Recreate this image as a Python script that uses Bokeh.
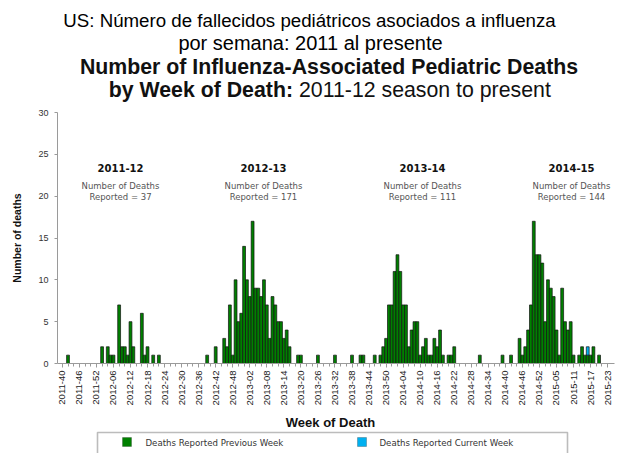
import math
from bokeh.plotting import figure
from bokeh.layouts import column
from bokeh.models import Label, BoxAnnotation, FixedTicker, Range1d, ColumnDataSource
from bokeh.embed import file_html
from bokeh.resources import INLINE

# ---------------- data ----------------
tick_labels = ["2011-40", "2011-46", "2011-52", "2012-06", "2012-12", "2012-18", "2012-24",
               "2012-30", "2012-36", "2012-42", "2012-48", "2013-02", "2013-08", "2013-14",
               "2013-20", "2013-26", "2013-32", "2013-38", "2013-44", "2013-50", "2014-04",
               "2014-10", "2014-16", "2014-22", "2014-28", "2014-34", "2014-40", "2014-46",
               "2014-52", "2015-05", "2015-11", "2015-17", "2015-23"]

prev_weeks = ["2011-42", "2012-02", "2012-04", "2012-05", "2012-06", "2012-08", "2012-09",
              "2012-10", "2012-11", "2012-12", "2012-13", "2012-16", "2012-17", "2012-18",
              "2012-20", "2012-22",
              "2012-39", "2012-42", "2012-45", "2012-46", "2012-47", "2012-48", "2012-49",
              "2012-50", "2012-51", "2012-52", "2013-01", "2013-02", "2013-03", "2013-04",
              "2013-05", "2013-06", "2013-07", "2013-08", "2013-09", "2013-10", "2013-11",
              "2013-12", "2013-13", "2013-14", "2013-15", "2013-16", "2013-19", "2013-20",
              "2013-26", "2013-32", "2013-38",
              "2013-41", "2013-42", "2013-46", "2013-48", "2013-49", "2013-50", "2013-51",
              "2013-52", "2014-01", "2014-02", "2014-03", "2014-04", "2014-05", "2014-06",
              "2014-07", "2014-08", "2014-09", "2014-10", "2014-11", "2014-12", "2014-13",
              "2014-14", "2014-15", "2014-16", "2014-17", "2014-18", "2014-20", "2014-21",
              "2014-22", "2014-31", "2014-39",
              "2014-42", "2014-45", "2014-46", "2014-47", "2014-48", "2014-49", "2014-50",
              "2014-51", "2014-52", "2014-53", "2015-01", "2015-02", "2015-03", "2015-04",
              "2015-05", "2015-06", "2015-07", "2015-08", "2015-09", "2015-10", "2015-11",
              "2015-13", "2015-14", "2015-15", "2015-16", "2015-17", "2015-18", "2015-20"]
prev_deaths = [1, 2, 2, 1, 1, 7, 2,
               2, 1, 5, 2, 6, 1, 2,
               1, 1,
               1, 2, 3, 2, 7, 1, 10,
               5, 6, 14, 10, 8, 17, 9,
               9, 8, 10, 7, 3, 8, 7,
               5, 5, 3, 4, 2, 1, 1,
               1, 1, 1,
               1, 1, 1, 1, 2, 3, 7,
               7, 11, 13, 11, 7, 7, 2,
               4, 5, 5, 1, 2, 3, 1,
               1, 3, 2, 4, 1, 1, 1,
               2, 1, 1,
               1, 3, 1, 2, 4, 7, 17,
               13, 13, 12, 5, 10, 9, 8,
               4, 1, 9, 5, 4, 5, 1,
               1, 2, 1, 1, 1, 2, 1]

curr_weeks = ["2015-16"]
curr_deaths = [1]

seasons = ["2011-12", "2012-13", "2013-14", "2014-15"]
season_reported = [37, 171, 111, 144]

YEAR_WEEKS = {2011: 52, 2012: 52, 2013: 52, 2014: 53}


def week_index(s):
    y, w = map(int, s.split("-"))
    idx = w - 40
    for yr in range(2011, y):
        idx += YEAR_WEEKS[yr]
    return idx


# ---------------- layout ----------------
W = 617
TOP_H = 104          # title strip (page y 0..104)
MAIN_H = 308         # chart (page y 104..412)
BOT_H = 453 - TOP_H - MAIN_H   # axis title + legend strip
ML, MR, MT, MB = 57, 3, 8, 49
PXW = 2.84
X0 = -1.7
X1 = X0 + (W - ML - MR) / PXW
FRAME_BOT = TOP_H + MAIN_H - MB      # page y of y=0
PXH = (MAIN_H - MT - MB) / 30.0


def dx(page_x):
    return X0 + (page_x - ML) / PXW


def dy(page_y):
    return (FRAME_BOT - page_y) / PXH


def blank_fig(h):
    # frames in a column are aligned with the chart frame (page x ML .. W-MR)
    f = figure(width=W, height=h, output_backend="svg", toolbar_location=None,
               x_axis_type=None, y_axis_type=None, min_border=0,
               x_range=Range1d(ML, W - MR), y_range=Range1d(h, 0))
    f.outline_line_color = None
    f.xgrid.grid_line_color = None
    f.ygrid.grid_line_color = None
    return f


def lab(fig, x, y, text, size, bold=False, font="Liberation Sans", color="#111111", align="center"):
    fig.add_layout(Label(x=x, y=y, text=text, text_align=align, text_baseline="middle",
                         text_font=font, text_font_size=size,
                         text_font_style="bold" if bold else "normal", text_color=color))


# ---- title strip ----
top = blank_fig(TOP_H)
lab(top, 309, 20, "US: Número de fallecidos pediátricos asociados a influenza", "18.7px", color="#000000")
lab(top, 310, 42, "por semana: 2011 al presente", "20px", color="#000000")
lab(top, 328.5, 66, "Number of Influenza-Associated Pediatric Deaths", "21.3px", bold=True)
lab(top, 292.5, 89, "by Week of Death:", "21.3px", bold=True, align="right")
lab(top, 298.5, 89, "2011-12 season to present", "21.3px", align="left")

# ---- main chart ----
p = figure(width=W, height=MAIN_H, output_backend="svg", toolbar_location=None,
           x_range=Range1d(X0, X1), y_range=Range1d(0, 30),
           min_border_left=ML, min_border_right=MR, min_border_top=MT, min_border_bottom=MB)
p.outline_line_color = None
p.xgrid.grid_line_color = None
p.ygrid.grid_line_color = None

prev_x = [week_index(w) for w in prev_weeks]
src = ColumnDataSource(dict(x=prev_x, top=prev_deaths))
p.vbar(x="x", top="top", width=1.0, source=src, fill_color="#008000",
       line_color="#111111", line_width=0.7)

lookup = dict(zip(prev_weeks, prev_deaths))
cx = [week_index(w) for w in curr_weeks]
cb = [lookup.get(w, 0) for w in curr_weeks]
ct = [b + v for b, v in zip(cb, curr_deaths)]
src2 = ColumnDataSource(dict(x=cx, bottom=cb, top=ct))
p.vbar(x="x", bottom="bottom", top="top", width=1.0, source=src2, fill_color="#00B0F0",
       line_color="#111111", line_width=0.7)

xa = p.xaxis[0]
major = [i * 6 for i in range(len(tick_labels))]
xa.ticker = FixedTicker(ticks=major, minor_ticks=list(range(0, 194, 2)))
xa.major_label_overrides = {m: t for m, t in zip(major, tick_labels)}
xa.major_label_orientation = math.pi / 2
xa.major_label_text_font = "Liberation Sans"
xa.major_label_text_font_size = "9.5px"
xa.major_label_text_color = "#222222"
xa.major_label_standoff = 3
xa.axis_line_color = "#9a9a9a"
xa.major_tick_line_color = "#9a9a9a"
xa.minor_tick_line_color = "#9a9a9a"
xa.major_tick_out = 4
xa.major_tick_in = 0
xa.minor_tick_out = 3
xa.minor_tick_in = 0

ya = p.yaxis[0]
ya.ticker = FixedTicker(ticks=[0, 5, 10, 15, 20, 25, 30], minor_ticks=[])
ya.major_label_text_font = "Liberation Sans"
ya.major_label_text_font_size = "9px"
ya.major_label_text_color = "#333333"
ya.major_label_standoff = 6
ya.axis_line_color = "#9a9a9a"
ya.major_tick_line_color = "#9a9a9a"
ya.major_tick_out = 3
ya.major_tick_in = 0
ya.axis_label = "Number of deaths"
ya.axis_label_text_font = "Liberation Sans"
ya.axis_label_text_font_style = "bold"
ya.axis_label_text_font_size = "10.5px"
ya.axis_label_text_color = "#111111"
ya.axis_label_standoff = 12

season_x = [120, 263, 422, 571]
for sx, name, rep in zip(season_x, seasons, season_reported):
    lab(p, dx(sx), dy(167), name, "10px", bold=True, font="DejaVu Sans", color="#111111")
    lab(p, dx(sx), dy(185), "Number of Deaths", "8.5px", font="DejaVu Sans", color="#555555")
    lab(p, dx(sx), dy(196), f"Reported = {rep}", "8.5px", font="DejaVu Sans", color="#555555")

# ---- axis title + legend strip ----
bot = blank_fig(BOT_H)
BY = TOP_H + MAIN_H   # page y of strip top
lab(bot, 330, 422 - BY, "Week of Death", "13px", bold=True, color="#111111")
bot.add_layout(BoxAnnotation(left=97, right=567, top=432 - BY, bottom=BOT_H + 20,
                             fill_alpha=0, line_color="#222222", line_width=1.6))
bot.add_layout(BoxAnnotation(left=122, right=131, top=437 - BY, bottom=446 - BY,
                             fill_color="#008000", fill_alpha=1, line_color="#111111", line_width=0.8))
bot.add_layout(BoxAnnotation(left=357, right=366, top=437 - BY, bottom=446 - BY,
                             fill_color="#00B0F0", fill_alpha=1, line_color="#111111", line_width=0.8))
lab(bot, 145, 442 - BY, "Deaths Reported Previous Week", "8.6px", font="DejaVu Sans", color="#333333", align="left")
lab(bot, 379, 442 - BY, "Deaths Reported Current Week", "8.6px", font="DejaVu Sans", color="#333333", align="left")

layout = column(top, p, bot, spacing=0)
open("out.html", "w").write(file_html(layout, INLINE))
